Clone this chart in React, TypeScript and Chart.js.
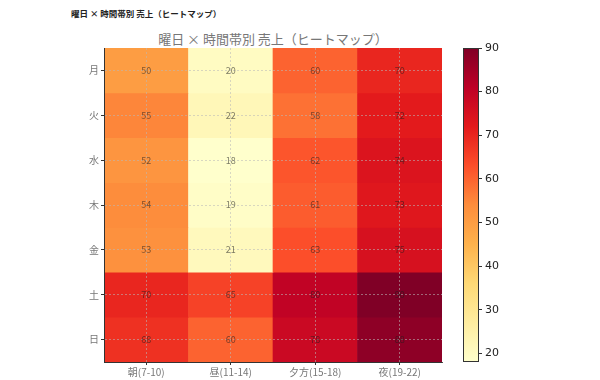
import React, { useEffect, useRef } from "react";
import { Chart, registerables } from "chart.js";

Chart.register(...registerables);

const days = ["月", "火", "水", "木", "金", "土", "日"];
const slots = ["朝(7-10)", "昼(11-14)", "夕方(15-18)", "夜(19-22)"];
const morning = [50, 55, 52, 54, 53, 70, 68];
const noon = [20, 22, 18, 19, 21, 65, 60];
const evening = [60, 58, 62, 61, 63, 80, 78];
const night = [70, 72, 74, 73, 75, 90, 88];
const slotValues = [morning, noon, evening, night];
const colorMin = 18;
const colorMax = 90;
const colorbarTicks = [20, 30, 40, 50, 60, 70, 80, 90];
const ylorrd = ["#ffffcc", "#ffeda0", "#fed976", "#feb24c", "#fd8d3c", "#fc4e2a", "#e31a1c", "#bd0026", "#800026"];

const FONT = "'Noto Sans CJK JP', 'Noto Sans', sans-serif";

function hexToRgb(h: string) {
  return [parseInt(h.slice(1, 3), 16), parseInt(h.slice(3, 5), 16), parseInt(h.slice(5, 7), 16)];
}

function colorFor(v: number) {
  let t = (v - colorMin) / (colorMax - colorMin);
  t = Math.max(0, Math.min(1, t));
  const pos = t * (ylorrd.length - 1);
  const i = Math.min(Math.floor(pos), ylorrd.length - 2);
  const f = pos - i;
  const a = hexToRgb(ylorrd[i]);
  const b = hexToRgb(ylorrd[i + 1]);
  const c = a.map((x, k) => Math.round(x + (b[k] - x) * f));
  return `rgb(${c[0]},${c[1]},${c[2]})`;
}

const gridColor = "rgba(185,185,185,0.7)";

const cellLabels = {
  id: "cellLabels",
  afterDraw(chart: any) {
    const ctx = chart.ctx;
    ctx.save();
    ctx.font = `9px ${FONT}`;
    ctx.fillStyle = "rgba(30,30,30,0.6)";
    ctx.textAlign = "center";
    ctx.textBaseline = "middle";
    chart.data.datasets.forEach((_ds: any, i: number) => {
      const meta = chart.getDatasetMeta(i);
      meta.data.forEach((el: any, j: number) => {
        const cx = el.x;
        const cy = (el.y + el.base) / 2;
        ctx.fillText(String(slotValues[j][i]), cx, cy);
      });
    });
    ctx.restore();
  },
};

export default function App() {
  const mainRef = useRef<HTMLCanvasElement | null>(null);
  const cbRef = useRef<HTMLCanvasElement | null>(null);

  useEffect(() => {
    if (!mainRef.current || !cbRef.current) return;
    const main = new Chart(mainRef.current, {
      type: "bar",
      data: {
        labels: slots,
        datasets: days.map((d, i) => ({
          label: d,
          data: slots.map(() => [i - 0.5, i + 0.5]),
          backgroundColor: slotValues.map((s) => colorFor(s[i])),
          grouped: false,
          barPercentage: 1,
          categoryPercentage: 1,
          borderWidth: 0,
        })),
      } as any,
      options: {
        animation: false,
        responsive: false,
        maintainAspectRatio: false,
        layout: { padding: { left: 74, right: 158, top: 48, bottom: 0 } },
        plugins: { legend: { display: false }, tooltip: { enabled: false }, title: { display: false } },
        scales: {
          x: {
            type: "category",
            offset: true,
            grid: { offset: false, z: 1, color: gridColor, lineWidth: 0.8, drawTicks: true, tickLength: 3, tickColor: "#333", tickWidth: 1 },
            border: { display: true, color: "#333", width: 1, dash: [2, 2], z: 1 },
            ticks: { color: "#777", font: { size: 10, family: FONT }, padding: 1, maxRotation: 0, autoSkip: false },
            afterFit: (s: any) => {
              s.height = 18;
            },
          },
          y: {
            type: "linear",
            min: -0.5,
            max: 6.5,
            reverse: true,
            afterBuildTicks: (s: any) => {
              s.ticks = days.map((_, i) => ({ value: i }));
            },
            grid: { z: 1, color: gridColor, lineWidth: 0.8, drawTicks: true, tickLength: 3, tickColor: "#333", tickWidth: 1 },
            border: { display: true, color: "#333", width: 1, dash: [2, 2], z: 1 },
            ticks: {
              color: "#777",
              font: { size: 10, family: FONT },
              padding: 2,
              callback: (v: any) => days[Number(v)] ?? "",
            },
            afterFit: (s: any) => {
              s.width = 30;
            },
          },
        },
      } as any,
      plugins: [cellLabels],
    });

    const cb = new Chart(cbRef.current, {
      type: "bar",
      data: {
        labels: [""],
        datasets: [
          {
            data: [[colorMin, colorMax]],
            barPercentage: 1,
            categoryPercentage: 1,
            borderWidth: 1,
            borderColor: "#333",
            borderSkipped: false,
            inflateAmount: 0,
            backgroundColor: (c: any) => {
              const chart = c.chart;
              const y = chart.scales && chart.scales.y;
              if (!chart.chartArea || !y) return ylorrd[0];
              const g = chart.ctx.createLinearGradient(0, y.getPixelForValue(colorMin), 0, y.getPixelForValue(colorMax));
              ylorrd.forEach((col, i) => g.addColorStop(i / (ylorrd.length - 1), col));
              return g;
            },
          },
        ],
      } as any,
      options: {
        animation: false,
        responsive: false,
        maintainAspectRatio: false,
        layout: { padding: { left: 463, right: 91, top: 48, bottom: 18 } },
        plugins: { legend: { display: false }, tooltip: { enabled: false } },
        scales: {
          x: { display: false },
          y: {
            position: "right",
            min: colorMin,
            max: colorMax,
            afterBuildTicks: (s: any) => {
              s.ticks = colorbarTicks.map((v) => ({ value: v }));
            },
            grid: { drawOnChartArea: false, drawTicks: true, tickLength: 3, tickColor: "#333" },
            border: { display: false },
            ticks: { color: "#222", font: { size: 11, family: "'DejaVu Sans', sans-serif" }, padding: 3 },
            afterFit: (s: any) => {
              s.width = 30;
            },
          },
        },
      } as any,
    });

    return () => {
      main.destroy();
      cb.destroy();
    };
  }, []);

  return (
    <div style={{ position: "absolute", left: 0, top: 0, width: 600, height: 380, background: "#fff", overflow: "hidden" }}>
      <div
        style={{
          position: "absolute",
          left: 71,
          top: 8,
          fontFamily: FONT,
          fontWeight: "bold",
          fontSize: "8.5px",
          lineHeight: "10px",
          color: "#222",
          whiteSpace: "nowrap",
        }}
      >
        曜日 × 時間帯別 売上（ヒートマップ）
      </div>
      <div
        style={{
          position: "absolute",
          left: 104,
          width: 338,
          top: 31,
          textAlign: "center",
          fontFamily: FONT,
          fontSize: "13px",
          lineHeight: "16px",
          color: "#777",
          whiteSpace: "nowrap",
        }}
      >
        曜日 × 時間帯別 売上（ヒートマップ）
      </div>
      <canvas ref={mainRef} width={600} height={380} style={{ position: "absolute", left: 0, top: 0, display: "block" }} />
      <canvas ref={cbRef} width={600} height={380} style={{ position: "absolute", left: 0, top: 0, display: "block" }} />
    </div>
  );
}
